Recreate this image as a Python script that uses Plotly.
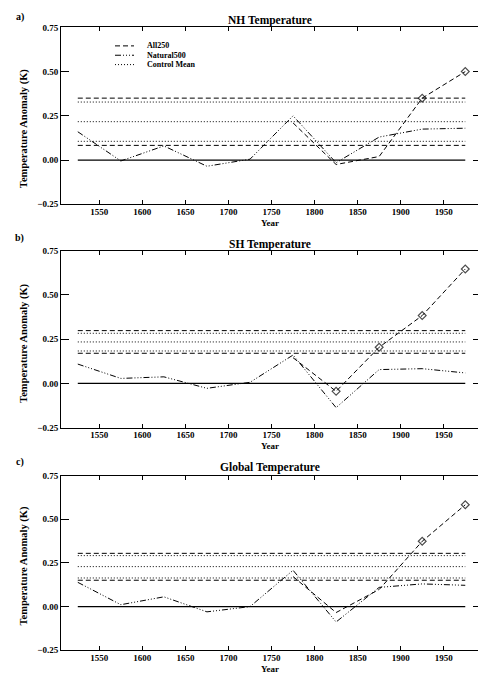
import plotly.graph_objects as go

# ---------------- data ----------------
years_nat = [1525, 1575, 1625, 1675, 1725, 1775, 1825, 1875, 1925, 1975]
years_all = [1775, 1825, 1875, 1925, 1975]
ctrl_span = [1525, 1975]

panel_titles = ["NH Temperature", "SH Temperature", "Global Temperature"]
panel_labels = ["a)", "b)", "c)"]

nat_nh = [0.16, -0.005, 0.08, -0.035, 0.005, 0.25, -0.015, 0.13, 0.175, 0.18]
all_nh = [0.21, -0.025, 0.02, 0.35, 0.50]
sig_nh = [False, False, False, True, True]
ctrl_dash_nh = [0.35, 0.083]
ctrl_dot_nh = [0.328, 0.217, 0.106]

nat_sh = [0.109, 0.028, 0.037, -0.028, 0.006, 0.16, -0.137, 0.078, 0.083, 0.059]
all_sh = [0.145, -0.045, 0.204, 0.383, 0.646]
sig_sh = [False, True, True, True, True]
ctrl_dash_sh = [0.298, 0.170]
ctrl_dot_sh = [0.283, 0.234, 0.183]

nat_gl = [0.139, 0.011, 0.056, -0.03, 0.0, 0.208, -0.088, 0.11, 0.13, 0.122]
all_gl = [0.172, -0.034, 0.098, 0.374, 0.583]
sig_gl = [False, False, False, True, True]
ctrl_dash_gl = [0.305, 0.151]
ctrl_dot_gl = [0.292, 0.229, 0.164]

x_ticks = [1550, 1600, 1650, 1700, 1750, 1800, 1850, 1900, 1950]
y_ticks = [-0.25, 0.0, 0.25, 0.50, 0.75]

legend_names = ["All250", "Natural500", "Control Mean"]

# ---------------- styling ----------------
W, H = 478, 674
FONT = "Liberation Serif"
DASH = "5px,3px"
DASHDOT = "6px,2px,1px,2px,1px,2px,1px,2px"
DOT = "1px,2px"

def px_x(p):
    return p / W

def px_y(p):
    return 1 - p / H

# pixel geometry of each panel (top, bottom of plot area)
panels_px = [(22.7, 202.3), (249.3, 429.0), (477.7, 655.0)]
title_y = [15.5, 243.0, 469.0]
ytitle_y = [126.0, 344.0, 570.0]
label_y = [12.0, 236.5, 464.0]
plot_left, plot_right = 61.0, 478.0

data_sets = [
    (nat_nh, all_nh, sig_nh, ctrl_dash_nh, ctrl_dot_nh),
    (nat_sh, all_sh, sig_sh, ctrl_dash_sh, ctrl_dot_sh),
    (nat_gl, all_gl, sig_gl, ctrl_dash_gl, ctrl_dot_gl),
]

fig = go.Figure()
annotations = []
shapes = []
tickfont = dict(family=FONT, size=9, color="black", weight="bold")

for i, (nat, allv, sig, cdash, cdot) in enumerate(data_sets):
    n = i + 1
    xa = "x" if n == 1 else f"x{n}"
    ya = "y" if n == 1 else f"y{n}"
    ya_r = f"y{n + 3}"

    for v in cdash:
        fig.add_trace(go.Scatter(x=ctrl_span, y=[v, v], mode="lines", xaxis=xa, yaxis=ya,
                                 line=dict(color="black", width=1, dash=DASH),
                                 showlegend=False, hoverinfo="skip"))
    for v in cdot:
        fig.add_trace(go.Scatter(x=ctrl_span, y=[v, v], mode="lines", xaxis=xa, yaxis=ya,
                                 line=dict(color="black", width=1, dash=DOT),
                                 showlegend=False, hoverinfo="skip"))
    # zero reference line (on the overlay axis that carries the right-hand ticks)
    fig.add_trace(go.Scatter(x=ctrl_span, y=[0, 0], mode="lines", xaxis=xa, yaxis=ya_r,
                             line=dict(color="black", width=1.3),
                             showlegend=False, hoverinfo="skip"))
    fig.add_trace(go.Scatter(x=years_nat, y=nat, mode="lines", xaxis=xa, yaxis=ya,
                             name="Natural500",
                             line=dict(color="black", width=1, dash=DASHDOT),
                             showlegend=False))
    fig.add_trace(go.Scatter(x=years_all, y=allv, mode="lines+markers", xaxis=xa, yaxis=ya,
                             name="All250",
                             line=dict(color="black", width=1, dash=DASH),
                             marker=dict(symbol="diamond-open", size=[6 if s else 0 for s in sig],
                                         color="black", line=dict(width=1.2, color="black")),
                             showlegend=False))

    top, bot = panels_px[i]
    dom_y = [px_y(bot), px_y(top)]
    dom_x = [px_x(plot_left), 1.0]
    fig.layout[("xaxis" if n == 1 else f"xaxis{n}")] = dict(
        domain=dom_x, anchor=ya, range=[1505.5, 1989.8],
        tickvals=x_ticks, ticks="inside", ticklen=4, tickwidth=1, tickcolor="black",
        showline=True, linecolor="black", linewidth=1, mirror="ticks",
        showgrid=False, zeroline=False, tickfont=tickfont, ticklabelstandoff=-1,
    )
    fig.layout[("yaxis" if n == 1 else f"yaxis{n}")] = dict(
        domain=dom_y, anchor=xa, range=[-0.25, 0.75],
        tickvals=y_ticks, tickformat=".2f", ticks="inside", ticklen=8, tickwidth=1,
        tickcolor="black", showline=True, linecolor="black", linewidth=1, mirror=False,
        showgrid=False, zeroline=False, tickfont=tickfont,
    )
    fig.layout[f"yaxis{n + 3}"] = dict(
        overlaying=ya, anchor=xa, side="right", range=[-0.25, 0.75],
        tickvals=y_ticks, ticks="inside", ticklen=5, tickwidth=1, tickcolor="black",
        showticklabels=False, showline=False, showgrid=False, zeroline=False,
    )

    cx = px_x((plot_left + plot_right) / 2)
    annotations.append(dict(text=panel_titles[i], x=cx, y=px_y(title_y[i]), xref="paper", yref="paper",
                            xanchor="center", yanchor="middle", showarrow=False, borderpad=0,
                            font=dict(family=FONT, size=11.5, color="black", weight="bold")))
    # the bottom panel's "Year" sits partly below the page edge, as in the original figure
    annotations.append(dict(text="Year", x=cx, y=px_y(bot + 18.5), xref="paper", yref="paper",
                            xanchor="center", yanchor="middle", showarrow=False, borderpad=0,
                            font=dict(family=FONT, size=9, color="black", weight="bold")))
    annotations.append(dict(text="Temperature Anomaly (K)", x=px_x(24), y=px_y(ytitle_y[i]),
                            xref="paper", yref="paper", textangle=-90, borderpad=0,
                            xanchor="center", yanchor="middle", showarrow=False,
                            font=dict(family=FONT, size=10.5, color="black", weight="bold")))
    annotations.append(dict(text=panel_labels[i], x=px_x(19.5), y=px_y(label_y[i]),
                            xref="paper", yref="paper", xanchor="center", yanchor="middle",
                            showarrow=False, borderpad=0,
                            font=dict(family=FONT, size=10, color="black", weight="bold")))

# legend (panel a)
legend_rows_y = [41.5, 51.0, 60.5]
legend_dashes = [DASH, DASHDOT, DOT]
for name, ry, dsh in zip(legend_names, legend_rows_y, legend_dashes):
    shapes.append(dict(type="line", xref="paper", yref="paper",
                       x0=px_x(115), x1=px_x(134), y0=px_y(ry), y1=px_y(ry),
                       line=dict(color="black", width=1, dash=dsh)))
    annotations.append(dict(text=name, x=px_x(146), y=px_y(ry), xref="paper", yref="paper",
                            xanchor="left", yanchor="middle", showarrow=False, borderpad=0,
                            font=dict(family=FONT, size=8, color="black", weight="bold")))

fig.update_layout(
    width=W, height=H,
    margin=dict(l=0, r=0, t=0, b=0),
    paper_bgcolor="white", plot_bgcolor="white",
    showlegend=False,
    annotations=annotations, shapes=shapes,
    font=dict(family=FONT, color="black"),
)

fig.write_html("out.html", config={"displayModeBar": False},
               post_script="document.body.style.margin='0';document.body.style.overflow='hidden';")
